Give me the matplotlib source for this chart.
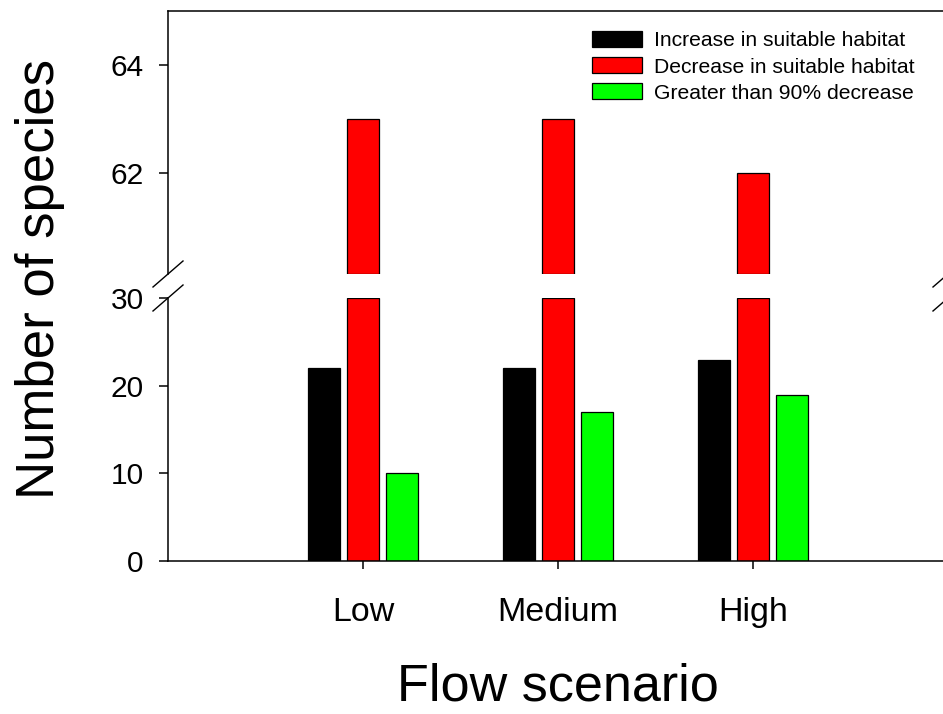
import matplotlib
matplotlib.use("Agg")
import matplotlib.pyplot as plt
import numpy as np

plt.rcParams['font.family'] = ['Liberation Sans', 'DejaVu Sans']

scenarios = ['Low', 'Medium', 'High']
increase = [22, 22, 23]
decrease = [63, 63, 62]
gt90 = [10, 17, 19]
labels = ['Increase in suitable habitat', 'Decrease in suitable habitat',
          'Greater than 90% decrease']

W, H = 943, 714
fig = plt.figure(figsize=(W / 100, H / 100), dpi=100)

# axes boxes in pixels (left, top, right, bottom)
def box(l, t, r, b):
    return [l / W, 1 - b / H, (r - l) / W, (b - t) / H]

ax_top = fig.add_axes(box(168, 11, 948, 274))
ax_bot = fig.add_axes(box(168, 298, 948, 561))

lo_max = 30
hi_min, hi_max = 60.13, 65

x = np.arange(1, len(scenarios) + 1)
w = 0.165
off = 0.2
kw = dict(edgecolor='black', linewidth=0.9)

dec = np.array(decrease, dtype=float)
ax_bot.bar(x - off, increase, w, color='black', label=labels[0], **kw)
ax_bot.bar(x, np.minimum(dec, lo_max), w, color='#ff0000', label=labels[1], **kw)
ax_bot.bar(x + off, gt90, w, color='#00ff00', label=labels[2], **kw)
ax_top.bar(x, dec - hi_min, w, bottom=hi_min, color='#ff0000', **kw)

ax_top.set_ylim(hi_min, hi_max)
ax_bot.set_ylim(0, lo_max + 0.05)
for ax in (ax_top, ax_bot):
    ax.set_xlim(0, 4)
    ax.spines['right'].set_visible(False)
    for s in ax.spines.values():
        s.set_linewidth(1.1)
    ax.tick_params(axis='y', direction='out', length=6.5, width=1.1,
                   labelsize=21.5, pad=11)

ax_top.spines['bottom'].set_visible(False)
ax_top.set_xticks([])
ax_top.set_yticks([62, 64])
ax_bot.spines['top'].set_visible(False)
ax_bot.set_yticks([0, 10, 20, 30])
ax_bot.set_xticks(x)
ax_bot.set_xticklabels(scenarios)
ax_bot.tick_params(axis='x', direction='out', length=6, width=1.1,
                   labelsize=24.5, pad=20)

# break marks
dx, dy = 15 / 780, 13 / 263
for ax, yc in ((ax_top, 0), (ax_bot, 1)):
    for xc in (0, 1):
        ax.plot([xc - dx, xc + dx], [yc - dy, yc + dy], color='black',
                lw=1.0, transform=ax.transAxes, clip_on=False)

h, l = ax_bot.get_legend_handles_labels()
ax_top.legend(h, l, loc='upper left', bbox_to_anchor=(592 / W, 1 - 31 / H),
              bbox_transform=fig.transFigure, frameon=False, fontsize=15.2,
              handlelength=2.35, handleheight=0.8, handletextpad=0.6,
              labelspacing=0.32, borderpad=0, borderaxespad=0)

fig.text(40 / W, 1 - 279 / H, 'Number of species', rotation=90,
         ha='center', va='center', fontsize=38)
fig.text(558 / W, 1 - 687 / H, 'Flow scenario', ha='center', va='center',
         fontsize=37.5)

fig.savefig('out.png', dpi=100)
